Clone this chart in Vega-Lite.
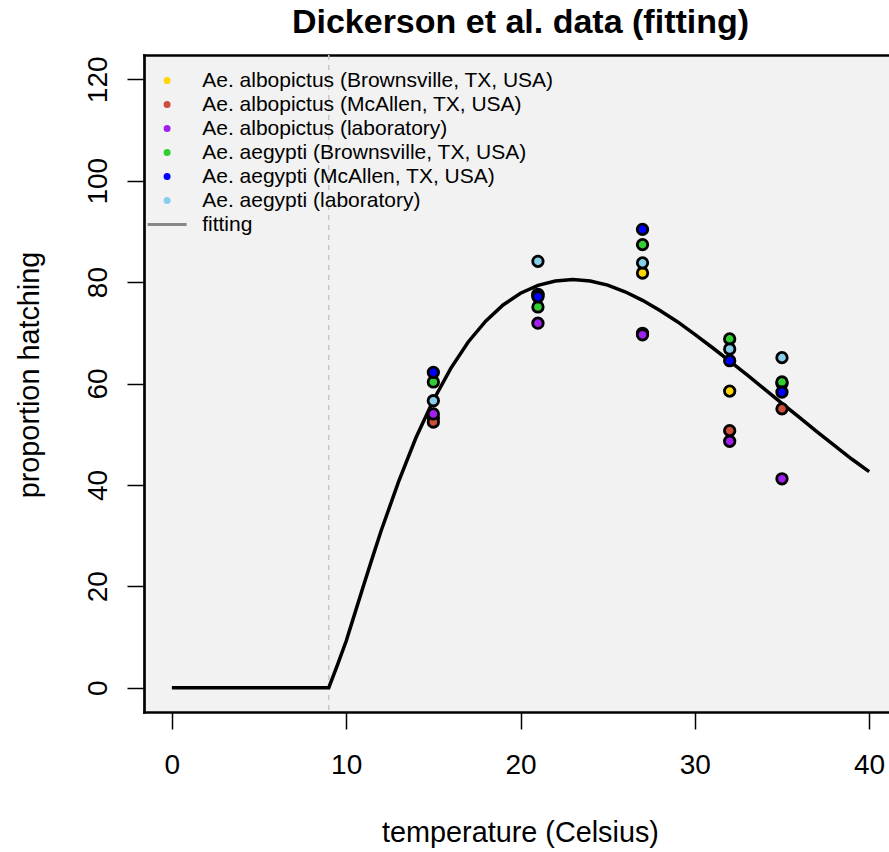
{
  "$schema": "https://vega.github.io/schema/vega-lite/v6.json",
  "width": 745,
  "height": 657,
  "autosize": {"type": "none"},
  "padding": {"left": 144, "top": 55, "right": 0, "bottom": 140},
  "background": "white",
  "title": {"text": "Dickerson et al. data (fitting)", "font": "Liberation Sans", "fontSize": 34, "fontWeight": "bold", "color": "black", "anchor": "middle", "offset": 14, "dx": 4},
  "config": {
    "font": "Liberation Sans",
    "view": {"fill": "#F2F2F2", "stroke": null},
    "legend": {"orient": "none", "legendX": 12.6, "legendY": 15.1, "padding": 0,
      "labelFont": "Liberation Sans", "labelFontSize": 21, "labelColor": "black", "labelLimit": 700,
      "symbolSize": 16, "symbolStrokeWidth": 3, "symbolOpacity": 1, "rowPadding": 2, "labelOffset": 24.6}
  },
  "datasets": {
    "thresh": [{"T": 9}],
    "curve": [
      {"T": 0, "f": 0}, {"T": 9, "f": 0}, {"T": 9.5, "f": 4.5}, {"T": 10, "f": 9.2}, {"T": 10.5, "f": 14.7},
      {"T": 11, "f": 20.2}, {"T": 11.5, "f": 25.6}, {"T": 12, "f": 30.9}, {"T": 13, "f": 40.6}, {"T": 14, "f": 49.3},
      {"T": 15, "f": 56.7}, {"T": 16, "f": 63.0}, {"T": 17, "f": 68.2}, {"T": 18, "f": 72.3}, {"T": 19, "f": 75.5},
      {"T": 20, "f": 77.8}, {"T": 21, "f": 79.35}, {"T": 22, "f": 80.2}, {"T": 23, "f": 80.5}, {"T": 24, "f": 80.2},
      {"T": 25, "f": 79.4}, {"T": 26, "f": 78.1}, {"T": 27, "f": 76.4}, {"T": 28, "f": 74.4}, {"T": 29, "f": 72.2},
      {"T": 30, "f": 69.7}, {"T": 31, "f": 67.1}, {"T": 32, "f": 64.4}, {"T": 33, "f": 61.7}, {"T": 34, "f": 58.9},
      {"T": 35, "f": 56.1}, {"T": 36, "f": 53.3}, {"T": 37, "f": 50.5}, {"T": 38, "f": 47.8}, {"T": 39, "f": 45.1},
      {"T": 40, "f": 42.6}
    ],
    "pts": [
      {"series": "Ae. albopictus (Brownsville, TX, USA)", "T": 15, "f": 53.2},
      {"series": "Ae. albopictus (Brownsville, TX, USA)", "T": 21, "f": 77.6},
      {"series": "Ae. albopictus (Brownsville, TX, USA)", "T": 27, "f": 81.8},
      {"series": "Ae. albopictus (Brownsville, TX, USA)", "T": 32, "f": 58.5},
      {"series": "Ae. albopictus (Brownsville, TX, USA)", "T": 35, "f": 60.0},
      {"series": "Ae. albopictus (McAllen, TX, USA)", "T": 15, "f": 52.4},
      {"series": "Ae. albopictus (McAllen, TX, USA)", "T": 21, "f": 77.4},
      {"series": "Ae. albopictus (McAllen, TX, USA)", "T": 27, "f": 69.9},
      {"series": "Ae. albopictus (McAllen, TX, USA)", "T": 32, "f": 50.7},
      {"series": "Ae. albopictus (McAllen, TX, USA)", "T": 35, "f": 55.0},
      {"series": "Ae. albopictus (laboratory)", "T": 15, "f": 54.0},
      {"series": "Ae. albopictus (laboratory)", "T": 21, "f": 71.9},
      {"series": "Ae. albopictus (laboratory)", "T": 27, "f": 69.6},
      {"series": "Ae. albopictus (laboratory)", "T": 32, "f": 48.6},
      {"series": "Ae. albopictus (laboratory)", "T": 35, "f": 41.2},
      {"series": "Ae. aegypti (Brownsville, TX, USA)", "T": 15, "f": 60.3},
      {"series": "Ae. aegypti (Brownsville, TX, USA)", "T": 21, "f": 75.1},
      {"series": "Ae. aegypti (Brownsville, TX, USA)", "T": 27, "f": 87.4},
      {"series": "Ae. aegypti (Brownsville, TX, USA)", "T": 32, "f": 68.8},
      {"series": "Ae. aegypti (Brownsville, TX, USA)", "T": 35, "f": 60.3},
      {"series": "Ae. aegypti (McAllen, TX, USA)", "T": 15, "f": 62.2},
      {"series": "Ae. aegypti (McAllen, TX, USA)", "T": 21, "f": 77.1},
      {"series": "Ae. aegypti (McAllen, TX, USA)", "T": 27, "f": 90.4},
      {"series": "Ae. aegypti (McAllen, TX, USA)", "T": 32, "f": 64.5},
      {"series": "Ae. aegypti (McAllen, TX, USA)", "T": 35, "f": 58.3},
      {"series": "Ae. aegypti (laboratory)", "T": 15, "f": 56.6},
      {"series": "Ae. aegypti (laboratory)", "T": 21, "f": 84.1},
      {"series": "Ae. aegypti (laboratory)", "T": 27, "f": 83.8},
      {"series": "Ae. aegypti (laboratory)", "T": 32, "f": 66.8},
      {"series": "Ae. aegypti (laboratory)", "T": 35, "f": 65.1}
    ]
  },
  "layer": [
    {
      "data": {"name": "thresh"},
      "mark": {"type": "rule", "color": "#C8C8C8", "strokeWidth": 1.5, "strokeDash": [5, 5]},
      "encoding": {
        "x": {"field": "T", "type": "quantitative", "scale": {"domain": [-1.6, 41.14], "nice": false, "zero": false},
          "axis": {"orient": "top", "labels": false, "ticks": false, "grid": false, "title": null, "domain": true, "domainColor": "black", "domainWidth": 2.7, "domainCap": "square"}}
      }
    },
    {
      "data": {"name": "curve"},
      "mark": {"type": "line", "color": "black", "strokeWidth": 3.5},
      "encoding": {
        "x": {"field": "T", "type": "quantitative", "scale": {"domain": [-1.6, 41.14], "nice": false, "zero": false}, "axis": null},
        "y": {"field": "f", "type": "quantitative", "scale": {"domain": [-4.8, 124.8], "nice": false, "zero": false},
          "axis": {"values": [0, 20, 40, 60, 80, 100, 120], "title": "proportion hatching", "grid": false,
            "domain": true, "domainColor": "black", "domainWidth": 2.7, "domainCap": "square",
            "ticks": true, "tickColor": "black", "tickWidth": 1.5, "tickSize": 17,
            "labelAngle": 270, "labelAlign": "center", "labelBaseline": "alphabetic", "labelPadding": 21,
            "labelFont": "Liberation Sans", "labelFontSize": 28, "labelColor": "black", "labelOverlap": false, "labelFlush": false, "labelBound": false,
            "titleFont": "Liberation Sans", "titleFontSize": 28.8, "titleFontWeight": "normal", "titleColor": "black",
            "titleAngle": 270, "titleBaseline": "alphabetic", "titleX": -106, "titleY": 319.5}}
      }
    },
    {
      "data": {"name": "pts"},
      "transform": [{"filter": "datum.T > 1000"}],
      "mark": {"type": "point", "filled": true},
      "encoding": {
        "x": {"field": "T", "type": "quantitative", "scale": {"domain": [-1.6, 41.14], "nice": false, "zero": false}, "axis": null},
        "fill": {"field": "series", "type": "nominal",
          "scale": {"domain": ["Ae. albopictus (Brownsville, TX, USA)", "Ae. albopictus (McAllen, TX, USA)", "Ae. albopictus (laboratory)", "Ae. aegypti (Brownsville, TX, USA)", "Ae. aegypti (McAllen, TX, USA)", "Ae. aegypti (laboratory)", "fitting"],
            "range": ["#FFD700", "#CD4F39", "#A020F0", "#32CD32", "#0000FF", "#87CEEB", "#888888"]},
          "legend": {"title": null}},
        "stroke": {"field": "series", "type": "nominal",
          "scale": {"domain": ["Ae. albopictus (Brownsville, TX, USA)", "Ae. albopictus (McAllen, TX, USA)", "Ae. albopictus (laboratory)", "Ae. aegypti (Brownsville, TX, USA)", "Ae. aegypti (McAllen, TX, USA)", "Ae. aegypti (laboratory)", "fitting"],
            "range": ["#FFD700", "#CD4F39", "#A020F0", "#32CD32", "#0000FF", "#87CEEB", "#888888"]},
          "legend": {"title": null}},
        "shape": {"field": "series", "type": "nominal",
          "scale": {"domain": ["Ae. albopictus (Brownsville, TX, USA)", "Ae. albopictus (McAllen, TX, USA)", "Ae. albopictus (laboratory)", "Ae. aegypti (Brownsville, TX, USA)", "Ae. aegypti (McAllen, TX, USA)", "Ae. aegypti (laboratory)", "fitting"],
            "range": ["circle", "circle", "circle", "circle", "circle", "circle", "M-9.75,0H9.75"]},
          "legend": {"title": null}}
      }
    },
    {
      "data": {"name": "pts"},
      "mark": {"type": "point", "filled": true, "stroke": "black", "strokeWidth": 2.8, "size": 110, "opacity": 1},
      "encoding": {
        "x": {"field": "T", "type": "quantitative", "scale": {"domain": [-1.6, 41.14], "nice": false, "zero": false},
          "axis": {"orient": "bottom", "values": [0, 10, 20, 30, 40], "title": "temperature (Celsius)", "grid": false,
            "domain": true, "domainColor": "black", "domainWidth": 2.7, "domainCap": "square",
            "ticks": true, "tickColor": "black", "tickWidth": 1.5, "tickSize": 17,
            "labelBaseline": "alphabetic", "labelAlign": "center", "labelPadding": 44,
            "labelFont": "Liberation Sans", "labelFontSize": 28, "labelColor": "black", "labelOverlap": false, "labelFlush": false, "labelBound": false,
            "titleFont": "Liberation Sans", "titleFontSize": 28.8, "titleFontWeight": "normal", "titleColor": "black",
            "titleBaseline": "alphabetic", "titleX": 376, "titleY": 129}},
        "y": {"field": "f", "type": "quantitative", "scale": {"domain": [-4.8, 124.8], "nice": false, "zero": false},
          "axis": {"values": [0, 20, 40, 60, 80, 100, 120], "title": "proportion hatching", "grid": false,
            "domain": true, "domainColor": "black", "domainWidth": 2.7, "domainCap": "square",
            "ticks": true, "tickColor": "black", "tickWidth": 1.5, "tickSize": 17,
            "labelAngle": 270, "labelAlign": "center", "labelBaseline": "alphabetic", "labelPadding": 21,
            "labelFont": "Liberation Sans", "labelFontSize": 28, "labelColor": "black", "labelOverlap": false, "labelFlush": false, "labelBound": false,
            "titleFont": "Liberation Sans", "titleFontSize": 28.8, "titleFontWeight": "normal", "titleColor": "black",
            "titleAngle": 270, "titleBaseline": "alphabetic", "titleX": -106, "titleY": 319.5}},
        "fill": {"field": "series", "type": "nominal",
          "scale": {"domain": ["Ae. albopictus (Brownsville, TX, USA)", "Ae. albopictus (McAllen, TX, USA)", "Ae. albopictus (laboratory)", "Ae. aegypti (Brownsville, TX, USA)", "Ae. aegypti (McAllen, TX, USA)", "Ae. aegypti (laboratory)", "fitting"],
            "range": ["#FFD700", "#CD4F39", "#A020F0", "#32CD32", "#0000FF", "#87CEEB", "#888888"]},
          "legend": null}
      }
    }
  ],
  "resolve": {"axis": {"x": "independent"}}
}
